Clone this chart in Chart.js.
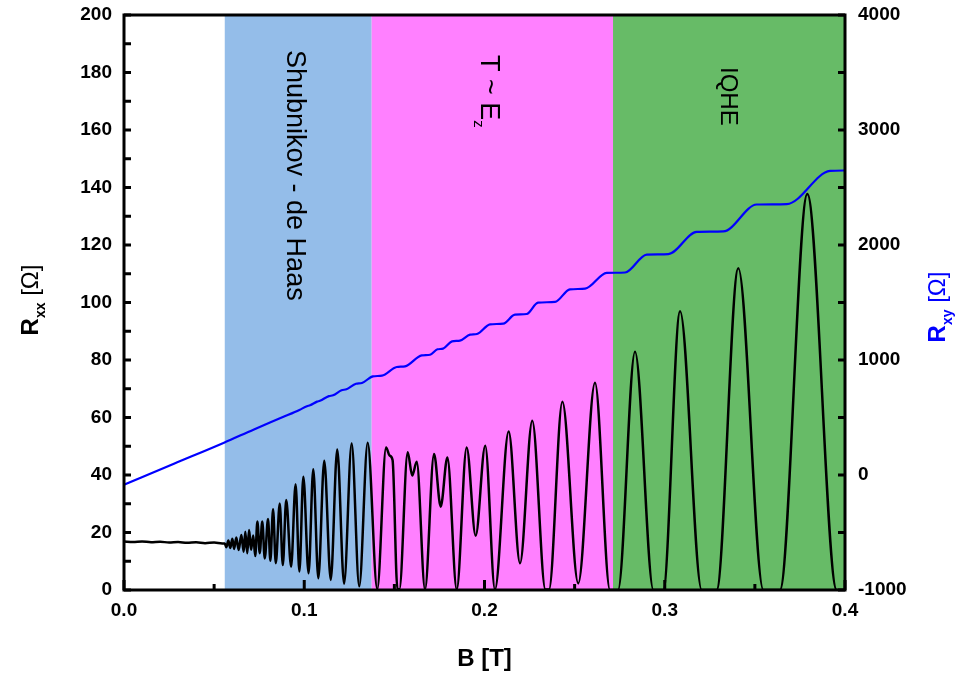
<!DOCTYPE html>
<html>
<head>
<meta charset="utf-8">
<script src="https://cdn.jsdelivr.net/npm/chart.js@4.4.1/dist/chart.umd.min.js"></script>
<style>
  body { margin: 0; background: #fff; }
  canvas { display: block; }
</style>
</head>
<body>
<canvas id="hall-chart" width="964" height="676"></canvas>
<script>
// regions of the field sweep (B in tesla)
var bandEdges = [0.0559, 0.1374, 0.2713, 0.4];
var bandColors = ['#94bde9', '#ff80ff', '#67bb67'];

// longitudinal resistance R_xx [Ohm] vs B [T]
var rxxField = [
  0, 0.005, 0.010, 0.015, 0.020, 0.025, 0.030, 0.035, 0.040, 0.045, 0.050, 0.0545,
  0.0559, 0.0568, 0.0579, 0.0590, 0.0601, 0.0611, 0.0623, 0.0636, 0.0651, 0.0664,
  0.0673, 0.0684, 0.0694, 0.0705, 0.0717, 0.0728, 0.0740, 0.0753, 0.0767, 0.0781,
  0.0799, 0.0812, 0.0827, 0.0842, 0.0864, 0.0881, 0.0900, 0.0927, 0.0952, 0.0973,
  0.0995, 0.1024, 0.1050, 0.1078, 0.1111, 0.1147, 0.1183, 0.1221, 0.1263, 0.1305,
  0.1352, 0.1405,
  0.1454, 0.1473, 0.1490, 0.1517, 0.1528, 0.1574, 0.1599, 0.1624, 0.1670, 0.1720,
  0.1757, 0.1794, 0.1846, 0.1901, 0.1951, 0.2004, 0.2058, 0.2134, 0.2197, 0.2265,
  0.2338, 0.2358, 0.2432, 0.2520, 0.2613,
  0.2696, 0.2741, 0.2835, 0.2937, 0.2992, 0.3085, 0.3205, 0.3288, 0.3408, 0.3547,
  0.3639, 0.3791, 0.3954, 0.4000
];
var rxxValues = [
  16.9, 16.7, 16.9, 16.6, 16.8, 16.5, 16.7, 16.4, 16.6, 16.3, 16.5, 16.2,
  16.2, 14.9, 17.2, 14.6, 17.8, 14.3, 18.3, 13.9, 19.1, 13.3,
  20.3, 12.8, 20.9, 14.0, 19.0, 11.8, 23.8, 12.8, 23.8, 11.0,
  24.7, 10.2, 28.1, 9.3, 30.1, 8.7, 31.3, 8.1, 36.8, 6.4,
  39.4, 5.8, 42.0, 4.1, 45.0, 3.5, 48.9, 2.2, 51.0, 1.3,
  51.2, 0.3,
  49.6, 46.8, 45.2, 0.3, 0.3, 47.9, 39.8, 44.6, 0.2, 47.3,
  29.0, 46.1, 0.2, 49.6, 18.9, 50.2, 0.2, 55.1, 9.3, 58.9,
  0.2, 0.2, 65.5, 2.3, 72.1,
  0, 0, 82.9, 0, 0, 97.0, 0, 0, 111.9, 0,
  0, 137.7, 0, 0
];

// Hall resistance R_xy [Ohm] vs B [T]
var rxyField = [
  0, 0.0277, 0.0555, 0.0721, 0.0888, 0.0973, 0.1015, 0.1032, 0.1071, 0.1087,
  0.1137, 0.1160, 0.1207, 0.1234, 0.1287, 0.1320, 0.1381, 0.1431, 0.1513, 0.1559,
  0.1652, 0.1698, 0.1739, 0.1770, 0.1820, 0.1864, 0.1920, 0.1958, 0.2031, 0.2104,
  0.2169, 0.2234, 0.2297, 0.2391, 0.2474, 0.2558, 0.2678, 0.2780, 0.2900, 0.3020,
  0.3177, 0.3325, 0.3510, 0.3677, 0.3917, 0.4000
];
var rxyValues = [
  -85, 98, 281, 396, 508, 566, 598, 606, 638, 645,
  686, 693, 737, 745, 793, 800, 858, 864, 939, 945,
  1040, 1046, 1093, 1099, 1162, 1168, 1220, 1226, 1310, 1316,
  1394, 1400, 1499, 1505, 1614, 1620, 1757, 1761, 1917, 1921,
  2114, 2118, 2352, 2356, 2644, 2648
];

var FONT = '"Liberation Sans", Arial, Helvetica, sans-serif';

function toPoints(xs, ys) {
  return xs.map(function(x, i) { return {x: x, y: ys[i]}; });
}

// draws a run of [text, font, shift] pieces along the current x direction
function drawRun(ctx, parts) {
  var x = 0;
  parts.forEach(function(p) {
    ctx.font = p[1];
    ctx.fillText(p[0], x, p[2] || 0);
    x += ctx.measureText(p[0]).width;
  });
  return x;
}
function runWidth(ctx, parts) {
  var w = 0;
  parts.forEach(function(p) { ctx.font = p[1]; w += ctx.measureText(p[0]).width; });
  return w;
}

var bandsPlugin = {
  id: 'bands',
  beforeDatasetsDraw: function(chart) {
    var ctx = chart.ctx, a = chart.chartArea, xs = chart.scales.x;
    ctx.save();
    for (var i = 0; i < bandColors.length; i++) {
      var x0 = xs.getPixelForValue(bandEdges[i]);
      var x1 = xs.getPixelForValue(bandEdges[i + 1]);
      ctx.fillStyle = bandColors[i];
      ctx.fillRect(x0, a.top, x1 - x0, a.bottom - a.top);
    }
    // band labels, rotated clockwise
    ctx.fillStyle = '#000';
    ctx.textBaseline = 'alphabetic';
    ctx.textAlign = 'left';
    var labels = [
      [287, 50, [['Shubnikov - de Haas', '27px ' + FONT]]],
      [481, 55, [['T ~ E', '27px ' + FONT], ['z', '15px ' + FONT, 7]]],
      [721, 67, [['IQHE', '24px ' + FONT]]]
    ];
    labels.forEach(function(l) {
      ctx.save();
      ctx.translate(l[0], l[1]);
      ctx.rotate(Math.PI / 2);
      drawRun(ctx, l[2]);
      ctx.restore();
    });
    ctx.restore();
  }
};

var framePlugin = {
  id: 'frame',
  afterDatasetsDraw: function(chart) {
    var ctx = chart.ctx, a = chart.chartArea;
    var xs = chart.scales.x, yl = chart.scales.y, yr = chart.scales.y1;
    ctx.save();
    ctx.strokeStyle = '#000';
    ctx.lineWidth = 3;
    ctx.strokeRect(a.left, a.top, a.right - a.left, a.bottom - a.top);
    ctx.beginPath();
    var v, p;
    for (v = 0; v <= 0.4001; v += 0.05) {
      p = xs.getPixelForValue(v);
      var major = Math.abs(v * 10 - Math.round(v * 10)) < 1e-6;
      ctx.moveTo(p, a.bottom);
      ctx.lineTo(p, a.bottom - (major ? 10 : 6));
    }
    for (v = 0; v <= 200; v += 10) {
      p = yl.getPixelForValue(v);
      ctx.moveTo(a.left, p);
      ctx.lineTo(a.left + 7, p);
    }
    for (v = -1000; v <= 4000; v += 500) {
      p = yr.getPixelForValue(v);
      ctx.moveTo(a.right, p);
      ctx.lineTo(a.right - 7, p);
    }
    ctx.stroke();
    ctx.restore();
  },
  afterDraw: function(chart) {
    var ctx = chart.ctx, a = chart.chartArea;
    ctx.save();
    ctx.textBaseline = 'alphabetic';
    ctx.textAlign = 'left';
    var bold = 'bold 24px ' + FONT, sub = 'bold 14px ' + FONT, reg = '24px ' + FONT;

    // x title
    var xt = [['B [T]', bold]];
    ctx.fillStyle = '#000';
    ctx.save();
    ctx.translate((a.left + a.right) / 2 - runWidth(ctx, xt) / 2, 666);
    drawRun(ctx, xt);
    ctx.restore();

    // left title
    var lt = [['R', bold], ['xx', sub, 7], [' [\u03a9]', reg]];
    ctx.save();
    ctx.translate(38, 300 + runWidth(ctx, lt) / 2);
    ctx.rotate(-Math.PI / 2);
    drawRun(ctx, lt);
    ctx.restore();

    // right title
    var rt = [['R', bold], ['xy', sub, 7], [' [\u03a9]', reg]];
    ctx.fillStyle = '#0000ff';
    ctx.save();
    ctx.translate(945, 307 + runWidth(ctx, rt) / 2);
    ctx.rotate(-Math.PI / 2);
    drawRun(ctx, rt);
    ctx.restore();
    ctx.restore();
  }
};

var tickFont = {family: FONT, size: 19, weight: 'bold'};

function fixVertical(width) {
  return function(s) {
    s.width = width;
    s.paddingTop = 0;
    s.paddingBottom = 0;
  };
}

new Chart(document.getElementById('hall-chart'), {
  type: 'line',
  data: {
    datasets: [
      {
        label: 'Rxx',
        data: toPoints(rxxField, rxxValues),
        yAxisID: 'y',
        borderColor: '#000000',
        borderWidth: 2.5,
        pointRadius: 0,
        cubicInterpolationMode: 'monotone'
      },
      {
        label: 'Rxy',
        data: toPoints(rxyField, rxyValues),
        yAxisID: 'y1',
        borderColor: '#0000ff',
        borderWidth: 2.2,
        pointRadius: 0,
        cubicInterpolationMode: 'monotone'
      }
    ]
  },
  options: {
    responsive: false,
    animation: false,
    layout: {padding: {top: 15, left: 0, right: 0, bottom: 0}},
    plugins: {legend: {display: false}, tooltip: {enabled: false}},
    scales: {
      x: {
        type: 'linear', min: 0, max: 0.4,
        grid: {display: false, drawTicks: false}, border: {display: false},
        ticks: {stepSize: 0.1, padding: 9, color: '#000', font: tickFont,
          callback: function(v) { return v.toFixed(1); }},
        afterFit: function(s) { s.height = 86; s.paddingLeft = 0; s.paddingRight = 0; }
      },
      y: {
        position: 'left', min: 0, max: 200,
        grid: {display: false, drawTicks: false}, border: {display: false},
        ticks: {stepSize: 20, padding: 12, color: '#000', font: tickFont,
          callback: function(v) { return String(v); }},
        afterFit: fixVertical(124)
      },
      y1: {
        position: 'right', min: -1000, max: 4000,
        grid: {display: false, drawTicks: false}, border: {display: false},
        ticks: {stepSize: 1000, padding: 13, color: '#000', font: tickFont,
          callback: function(v) { return String(v); }},
        afterFit: fixVertical(119)
      }
    }
  },
  plugins: [bandsPlugin, framePlugin]
});
</script>
</body>
</html>
